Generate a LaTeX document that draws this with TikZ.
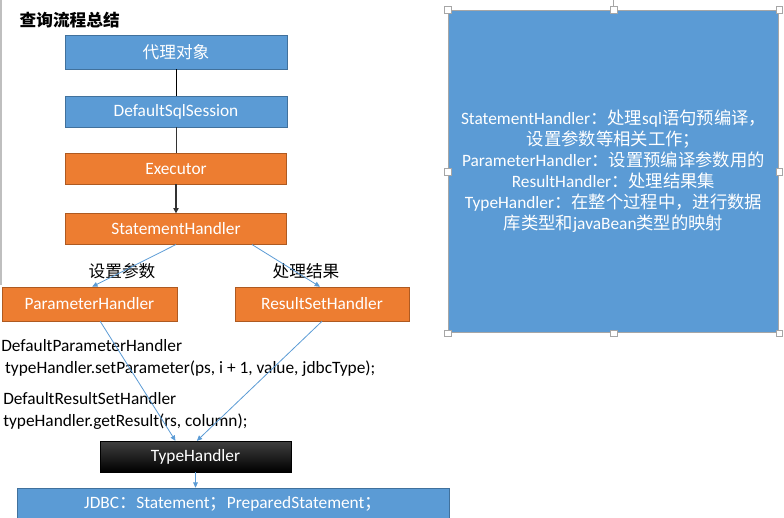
\documentclass[tikz,border=0pt]{standalone}
\usepackage{fontspec}
\setmainfont{Carlito}
\newfontfamily\cjk{Noto Sans CJK SC}
\newcommand{\zh}[1]{{\cjk #1}}
\usepackage{tikz}
\usetikzlibrary{positioning,arrows.meta}
\usepackage{xcolor}
\definecolor{boxblue}{HTML}{5B9BD5}
\definecolor{blueline}{HTML}{41719C}
\definecolor{boxorange}{HTML}{ED7D31}
\definecolor{orangeline}{HTML}{AE5A21}

\begin{document}
\begin{tikzpicture}[
    x=0.75pt, y=-0.75pt,
    bluebox/.style={draw=blueline, fill=boxblue, text=white, minimum width=166.5pt, minimum height=23pt, font=\fontsize{13}{15}\selectfont, inner sep=0pt},
    orangebox/.style={draw=orangeline, fill=boxorange, text=white, minimum width=166pt, minimum height=23pt, font=\fontsize{13}{15}\selectfont, inner sep=0pt},
    codetext/.style={anchor=north west, align=left, inner sep=0pt, font=\fontsize{13}{16.5}\selectfont},
    handle/.style={draw=gray!70, fill=white, minimum size=5pt, inner sep=0pt},
    fwd/.style={-{Triangle[length=4pt, width=4pt]}, thick, black!80},
    flow/.style={-{Triangle[length=4pt, width=3.5pt]}, boxblue, semithick},
    node distance=20pt
]
\useasboundingbox (0,0) rectangle (784,517);

\draw[gray!50, thick] (1,0) -- (1,285);

\node[anchor=west, font=\fontsize{12.5}{15}\selectfont\bfseries] (title) at (15,20) {\zh{查询流程总结}};

\node[bluebox, minimum height=25.5pt] (proxy) at (176,52) {\zh{\fontsize{12.5}{15}\selectfont 代理对象}};
\node[bluebox, below=20pt of proxy] (session) {DefaultSqlSession};
\node[orangebox, below=19.5pt of session] (exec) {Executor};
\node[orangebox, below=21.75pt of exec] (stmt) {StatementHandler};

\node[orangebox, minimum width=131pt, minimum height=25.5pt] (param) at (89.5,304) {ParameterHandler};
\node[orangebox, minimum width=130.5pt, minimum height=25.5pt] (result) at (322,304) {ResultSetHandler};

\node[font=\fontsize{12.5}{15}\selectfont] (setlbl) at (122,271) {\zh{设置参数}};
\node[font=\fontsize{12.5}{15}\selectfont] (reslbl) at (306,271) {\zh{处理结果}};

\node[codetext] (paramcode) at (1,339) {DefaultParameterHandler\\\ typeHandler.setParameter(ps, i + 1, value, jdbcType);};
\node[codetext] (rescode) at (3,392) {DefaultResultSetHandler\\typeHandler.getResult(rs, column);};

\node[draw=black, top color=black!75, bottom color=black, text=white, minimum width=143pt, minimum height=23pt, inner sep=0pt, font=\fontsize{13}{15}\selectfont] (typeh) at (195.5,456.5) {TypeHandler};
\node[bluebox, minimum width=324pt, minimum height=24pt] (jdbc) at (233,504) {JDBC\zh{：}Statement\zh{；}PreparedStatement\zh{；}};

% main chain
\draw[black] (proxy) -- (session);
\draw[black!80] (session) -- (exec);
\draw[fwd] (exec) -- (stmt);

% handlers
\draw[flow] (stmt.south) -- ([xshift=2pt]param.north);
\draw[flow] ([xshift=57pt]stmt.south) -- ([xshift=-1.5pt]result.north);
\draw[flow] ([xshift=8pt]param.south) -- ([xshift=-15pt]typeh.north);
\draw[flow] (result.south) -- ([xshift=1pt]typeh.north);
\draw[flow] (typeh.south) -- (typeh.south |- jdbc.north);

% note box
\node[draw=gray!70, thick, fill=boxblue, text=white, minimum width=248pt, minimum height=242pt, inner sep=0pt, align=center, font=\fontsize{13}{15.75}\selectfont] (note) at (613.5,171.5)
  {StatementHandler\zh{：处理}sql\zh{语句预编译，}\\
   \zh{设置参数等相关工作；}\\
   ParameterHandler\zh{：设置预编译参数用的}\\
   ResultHandler\zh{：处理结果集}\\
   TypeHandler\zh{：在整个过程中，进行数据}\\
   \zh{库类型和}javaBean\zh{类型的映射}};

\draw[gray!70] (613.5,0) -- (note.north);
\foreach \a in {north west, north, north east, west, east, south west, south, south east}
  \node[handle] at (note.\a) {};

\end{tikzpicture}
\end{document}
